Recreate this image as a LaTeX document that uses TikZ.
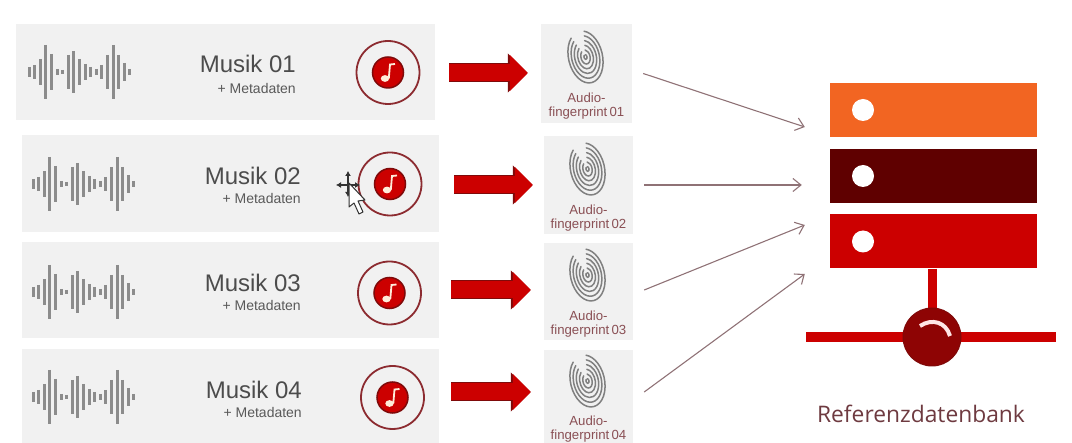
\documentclass[tikz,border=0pt]{standalone}
\usepackage{fontspec}
\setmainfont{Liberation Sans}
\newfontfamily\dbfont{Open Sans}
\usetikzlibrary{arrows.meta}

\definecolor{boxgray}{HTML}{F1F1F1}
\definecolor{mainred}{HTML}{CC0000}
\definecolor{darkred}{HTML}{7F0A0A}
\definecolor{dborange}{HTML}{F26522}
\definecolor{dbbrown}{HTML}{5F0000}
\definecolor{hubred}{HTML}{8E0404}
\definecolor{linegray}{HTML}{8F7276}
\definecolor{ringred}{HTML}{8C2B30}
\definecolor{fplabel}{HTML}{8A5055}
\definecolor{dbtext}{HTML}{6E3A40}

\tikzset{
  rowbox/.style={fill=boxgray,inner sep=0pt},
  title/.style={anchor=east,inner sep=0pt,text=black!70,font=\fontsize{24}{26}\selectfont},
  meta/.style={anchor=east,inner sep=0pt,text=black!65,font=\fontsize{14}{15}\selectfont},
  fplab/.style={text=fplabel,align=center,inner sep=0pt,font=\fontsize{13.2}{14}\selectfont},
  ring/.style={circle,draw=ringred,line width=1.8pt,minimum size=63pt,inner sep=0pt},
  disc/.style={circle,fill=mainred,draw=darkred,line width=1.5pt,minimum size=31pt,inner sep=0pt},
  fatarrow/.style={mainred,line width=17pt,-{Triangle[length=18pt,width=35pt]},
    preaction={draw=darkred,line width=19pt,-{Triangle[length=20pt,width=38pt]}}},
  thinarrow/.style={linegray,line width=1.1pt,-{Straight Barb[length=8pt,width=13pt]}},
  dbbox/.style={minimum width=207pt,minimum height=54pt,inner sep=0pt},
  dbdot/.style={circle,fill=white,minimum size=22pt,inner sep=0pt},
}

\begin{document}
\begin{tikzpicture}[x=1pt,y=-1pt]
    \useasboundingbox (0,0) rectangle (1072,443);

    % draw database
    \node[dbbox,fill=dborange] (dbtop) at (933.5,110) {};
    \node[dbbox,fill=dbbrown] (dbmid) at (933.5,176) {};
    \node[dbbox,fill=mainred] (dbred) at (933.5,241.5) {};
    \foreach \d in {dbtop,dbmid,dbred}
    \node[dbdot] (dot\d) at ([xshift=-70.5pt]\d) {};

    % draw bus and hub
    \coordinate (hubc) at (932,337);
    \coordinate (busl) at (806,337);
    \coordinate (busr) at (1056,337);
    \draw[mainred,line width=9pt] (hubc |- dbred.south) -- (hubc);
    \draw[mainred,line width=10pt] (busl) -- (busr);
    \node[circle,fill=hubred,draw=darkred,line width=1pt,minimum size=58pt] (hub) at (hubc) {};
    \draw[white!90!red,line width=4pt] (920,326) .. controls (932,318) and (946,322) .. (950,336);
    \node[text=dbtext,font=\dbfont\fontsize{22.8}{26}\selectfont] (dbname) at (921,414) {Referenzdatenbank};

    % draw rows
    \foreach \n/\bx/\by/\bw/\bh/\wx/\wy/\rx/\ry/\tx/\ty/\my/\fx/\fy/\fw/\fh/\gy/\sa/\sb/\ay in {
      01/225.5/72/419/96/29/72/388/72.5/296/64/24/586.5/73.5/91/99/57/14/13/73,
      02/230.5/183.5/417/97/33/184/390/184/301/176/22/588.5/185/89/98/169/15/11/185,
      03/230.5/290/417/96/33/292/389.5/293/301/283/22/588.5/291.5/89/97/275/12/13/290,
      04/230.5/396/417/94/33/397/392.5/397.5/302/390/22/588.5/396.5/89/93/381/12/13/392}{
      \node[rowbox,minimum width=\bw pt,minimum height=\bh pt] (musik\n) at (\bx,\by) {};
      \node[rowbox,minimum width=\fw pt,minimum height=\fh pt] (fp\n) at (\fx,\fy) {};

      % wave bars
      \foreach \h [count=\i from 0] in {5,7,13,27,18,3,2,17,21,13,8,5,3,7,17,27,17,9,3}
      \draw[black!45,line width=3pt] ({\wx+\i*5.6},{\wy-\h}) -- ({\wx+\i*5.6},{\wy+\h});

      \node[title] (titel\n) at (\tx,\ty) {Musik \n};
      \node[meta] (meta\n) at (\tx,\ty+\my) {+ Metadaten};

      % music icon
      \node[ring] (ring\n) at (\rx,\ry) {};
      \node[disc] (disc\n) at (\rx,\ry) {};
      \begin{scope}[shift={(\rx,\ry)}]
        \fill[white!85!orange] (-3,6) ellipse (4.2 and 3.4);
        \draw[white!85!orange,line width=1.8pt] (0.8,6) -- (2,-8) -- (7,-8.5);
      \end{scope}

      % fingerprint
      \begin{scope}[shift={(\fx-1,\gy)},rotate=13,yscale=-1]
        \foreach \r in {1.5,4.6,7.7,10.8,13.9,17}
        \draw[black!50,line width=1.5pt,line cap=round] (235:\r pt and 1.55*\r pt) arc[start angle=235,end angle=-75,x radius=\r pt,y radius=1.55*\r pt];
      \end{scope}
      \node[fplab] (fplab\n) at (\fx,\fy+33) {Audio-\\fingerprint\,\n};

      % fat arrow
      \draw[fatarrow] (musik\n.east |- 0,\ay) ++(\sa,0) coordinate (fatstart\n) -- ([xshift=-\sb pt]fp\n.west |- fatstart\n);
    }

    % draw thin arrows
    \foreach \s/\sy/\e/\ex/\ey in {01/0/dbtop/-25/17, 02/0/dbmid/-28/9, 03/-1.5/dbred/-25/-16.5, 04/-4.5/dbred/-25/32.5}
    \draw[thinarrow] ([shift={(11,\sy)}]fp\s.east) -- ([shift={(\ex,\ey)}]\e.west);

    % draw cursor
    \coordinate (curs) at (348,185);
    \draw[black!80,line width=1.2pt,{Latex[length=5pt,width=6pt]}-{Latex[length=5pt,width=6pt]}] ([xshift=-12pt]curs) -- ([xshift=12pt]curs);
    \draw[black!80,line width=1.2pt,{Latex[length=5pt,width=6pt]}-{Latex[length=5pt,width=6pt]}] ([yshift=14pt]curs) -- ([yshift=-12pt]curs);
    \draw[black!80,fill=white,line width=1pt,line join=round] (349,183) -- (349,207) -- (354,203) -- (359,214) -- (363,212) -- (358,201) -- (365,200) -- cycle;
\end{tikzpicture}
\end{document}
